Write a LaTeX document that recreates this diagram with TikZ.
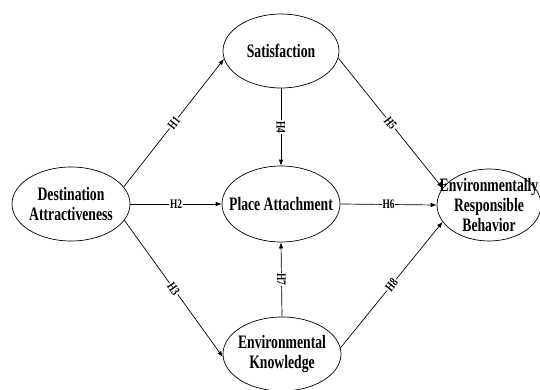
\documentclass[tikz,border=0pt]{standalone}
\usepackage{fontspec}
\setmainfont{Liberation Serif}[FakeStretch=0.72]
\usepackage{tikz}
\usetikzlibrary{arrows.meta,shapes.geometric}
\newcommand{\constructfont}{\fontsize{19}{20}\selectfont\bfseries}
\newcommand{\hypfont}{\fontsize{13}{14}\selectfont\bfseries}
\tikzset{
  construct/.style={ellipse, draw, line width=0.7pt, inner xsep=-16pt, inner ysep=-10pt, align=center, font=\constructfont},
  hypline/.style={-{Latex[length=6pt,width=4.5pt]}, line width=0.7pt},
  hyp/.style={fill=white, inner sep=1pt, font=\hypfont}
}

\begin{document}
\begin{tikzpicture}[x=1pt,y=1pt]
  \useasboundingbox (0,0) rectangle (540,390);
  % constructs
  \node[construct, minimum width=118, minimum height=74] (da) at (71,186) {Destination\\Attractiveness};
  \node[construct, minimum width=116, minimum height=74] (sat) at (281,339) {Satisfaction};
  \node[construct, minimum width=118, minimum height=76] (pa) at (281,186) {Place Attachment};
  \node[construct, minimum width=118, minimum height=74] (ek) at (282,36) {Environmental\\Knowledge};
  \node[construct, minimum width=104, minimum height=72] (erb) at (489,185) {Environmentally\\Responsible\\Behavior};
  % hypotheses
  \draw[hypline] (da.18) -- node[hyp, sloped] {H1} (sat.188);
  \draw[hypline] (da.east) -- node[hyp] {H2} (pa.west);
  \draw[hypline] (da.-17) -- node[hyp, sloped] {H3} (ek.183);
  \draw[hypline] (sat.south) -- node[hyp, rotate=-90] {H4} (pa.north);
  \draw[hypline] (sat.-7) -- node[hyp, sloped] {H5} (erb.160);
  \draw[hypline] (pa.east) -- node[hyp] {H6} (erb.west);
  \draw[hypline] (ek.north) -- node[hyp, rotate=-90] {H7} (pa.south);
  \draw[hypline] (ek.6) -- node[hyp, sloped] {H8} (erb.200);
\end{tikzpicture}
\end{document}
